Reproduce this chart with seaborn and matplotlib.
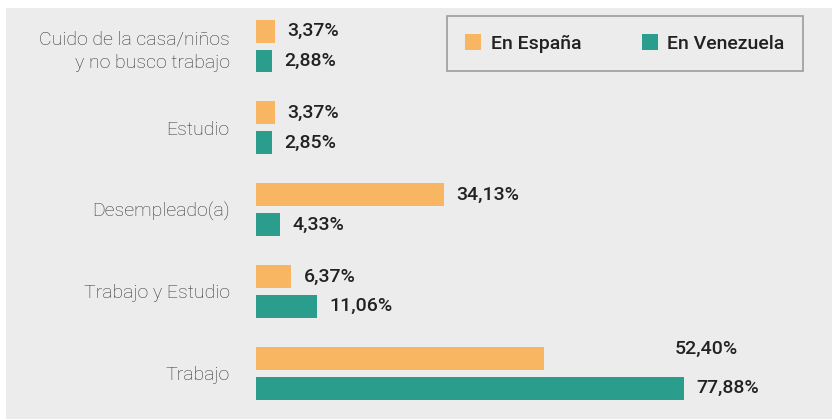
import matplotlib
matplotlib.use("Agg")
import matplotlib.pyplot as plt
import matplotlib.patches as mpatches
import pandas as pd
import seaborn as sns

# datos
categorias = ["Cuido de la casa/niños\ny no busco trabajo", "Estudio",
              "Desempleado(a)", "Trabajo y Estudio", "Trabajo"]
en_espana = [3.37, 3.37, 34.13, 6.37, 52.40]
en_venezuela = [2.88, 2.85, 4.33, 11.06, 77.88]
series = ["En España", "En Venezuela"]

colores = {"En España": "#F8B562", "En Venezuela": "#2A9D8C"}
fondo = "#ECECEC"

df = pd.DataFrame({
    "categoria": categorias * 2,
    "serie": [series[0]] * len(categorias) + [series[1]] * len(categorias),
    "valor": en_espana + en_venezuela,
})

sns.set_style("white")
plt.rcParams["font.family"] = ["Roboto", "DejaVu Sans"]

fig = plt.figure(figsize=(8.32, 4.19), dpi=100, facecolor="white")
# gray panel behind everything
fig.patches.append(mpatches.Rectangle((6 / 832, 0), 1, 1 - 8 / 419,
                                      transform=fig.transFigure,
                                      facecolor=fondo, edgecolor="none", zorder=-5))

ax = fig.add_axes([256 / 832, 0, (830 - 256) / 832, 1 - 8 / 419])
ax.set_facecolor("none")
ax.set_zorder(2)

sns.barplot(data=df, y="categoria", x="valor", hue="serie", hue_order=series,
            palette=colores, orient="h", width=0.73, gap=0.235,
            order=categorias, ax=ax, legend=False, saturation=1, linewidth=0)

ax.set_xlim(0, 104.4)
ax.set_ylim(4.56, -0.465)
ax.set_xlabel("")
ax.set_ylabel("")
ax.set_xticks([])
for s in ax.spines.values():
    s.set_visible(False)
ax.tick_params(axis="y", length=0, pad=19)
for lbl in ax.get_yticklabels():
    lbl.set_fontsize(14)
    lbl.set_fontweight("light")
    lbl.set_color("#333333")
    lbl.set_multialignment("right")
    lbl.set_linespacing(1.4)

# value labels
ajustes = {("Trabajo", "En España"): (94, 7)}
for cont, serie in zip(ax.containers, series):
    for bar, cat in zip(cont, categorias):
        w = bar.get_width()
        dx, dy = ajustes.get((cat, serie), (9, 0))
        ax.annotate(f"{w:.2f}%".replace(".", ","),
                    (w, bar.get_y() + bar.get_height() / 2),
                    xytext=(dx, dy), textcoords="offset points",
                    va="center", ha="left", fontsize=14,
                    fontweight="medium", color="#222222")

handles = [mpatches.Patch(facecolor=colores[s], edgecolor="none", label=s)
           for s in series]
leg = fig.legend(handles=handles, ncol=2, loc="upper right",
                 bbox_to_anchor=(803 / 832, 1 - 16 / 419),
                 frameon=True, fancybox=False, fontsize=14,
                 handlelength=0.82, handleheight=0.82, handletextpad=0.5,
                 columnspacing=3.1, borderpad=0.95, borderaxespad=0)
leg.get_frame().set_facecolor(fondo)
leg.get_frame().set_edgecolor("#888888")
leg.get_frame().set_linewidth(1.2)
leg.set_zorder(3)
for t in leg.get_texts():
    t.set_color("#222222")
    t.set_fontweight("medium")

fig.savefig("out.png", dpi=100, facecolor="white")
